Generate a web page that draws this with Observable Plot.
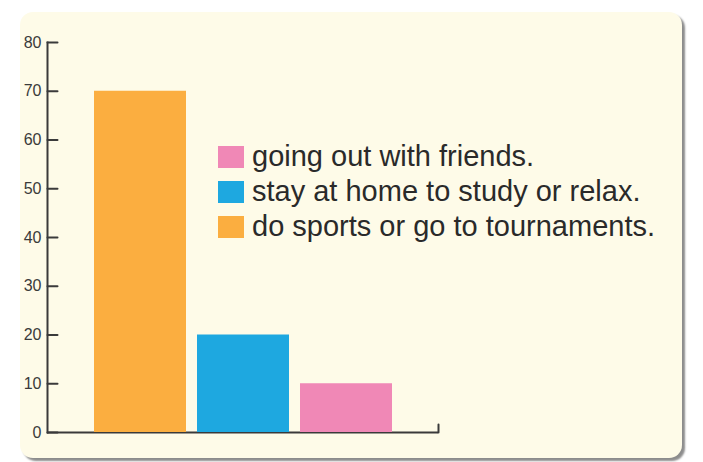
<!DOCTYPE html>
<html><head><meta charset="utf-8">
<script src="https://cdn.jsdelivr.net/npm/d3@7"></script>
<script src="https://cdn.jsdelivr.net/npm/@observablehq/plot@0.6"></script>
<style>
body{margin:0;background:#fff;font-family:"Liberation Sans",Arial,sans-serif;}
#wrap{position:relative;width:703px;height:462px;overflow:hidden;}
#card{position:absolute;left:20px;top:12px;width:662px;height:446px;border-radius:13px;background:#fefbe8;box-shadow:3px 3px 2px rgba(0,0,0,0.45);}
#chart{position:absolute;left:0;top:0;}
#chart svg text{font-size:16px !important;}
#legend{position:absolute;left:218px;top:139px;}
.row{display:flex;align-items:center;height:35px;font-size:29px;color:#2a2a2a;white-space:nowrap;}
.sw{width:26px;height:22px;margin-right:8px;flex:none;}
</style></head><body>
<div id="wrap"><div id="card"></div><div id="chart"></div><div id="legend"></div></div>
<script>
const categories = ["do sports or go to tournaments.", "stay at home to study or relax.", "going out with friends."];
const values = [70, 20, 10];
const colors = ["#fbae40", "#1ea8e0", "#f088b6"];
const yTicks = [0, 10, 20, 30, 40, 50, 60, 70, 80];
const legendOrder = ["going out with friends.", "stay at home to study or relax.", "do sports or go to tournaments."];

const data = categories.map((c, i) => ({category: c, value: values[i]}));
const axisColor = "#3a3a3a";

const chart = Plot.plot({
  width: 703, height: 462,
  marginLeft: 47, marginRight: 265, marginTop: 42, marginBottom: 30,
  style: {background: "transparent", fontFamily: "'Liberation Sans', Arial, sans-serif", fontSize: "16px", color: "#3a3a3a"},
  x: {domain: categories, paddingInner: 0.11, paddingOuter: 0.444, axis: null},
  y: {domain: [0, 80], axis: null},
  color: {domain: categories, range: colors},
  marks: [
    Plot.frame({anchor: "left", stroke: axisColor, strokeWidth: 2}),
    Plot.ruleY([0], {stroke: axisColor, strokeWidth: 2}),
    Plot.vector(yTicks, {y: d => d, frameAnchor: "left", length: 10, rotate: 90, anchor: "start", r: 0, stroke: axisColor, strokeWidth: 2}),
    Plot.vector([0], {y: d => d, frameAnchor: "right", length: 8, rotate: 0, anchor: "start", r: 0, stroke: axisColor, strokeWidth: 2}),
    Plot.axisY({ticks: yTicks, tickSize: 0, tickPadding: 6, fontSize: 16, fill: "#3a3a3a", label: null}),
    Plot.barY(data, {x: "category", y: "value", fill: "category"})
  ]
});
document.getElementById("chart").appendChild(chart);

const legend = document.getElementById("legend");
for (const name of legendOrder) {
  const row = document.createElement("div");
  row.className = "row";
  const sw = document.createElement("span");
  sw.className = "sw";
  sw.style.background = colors[categories.indexOf(name)];
  const label = document.createElement("span");
  label.textContent = name;
  row.appendChild(sw);
  row.appendChild(label);
  legend.appendChild(row);
}
</script>
</body></html>
